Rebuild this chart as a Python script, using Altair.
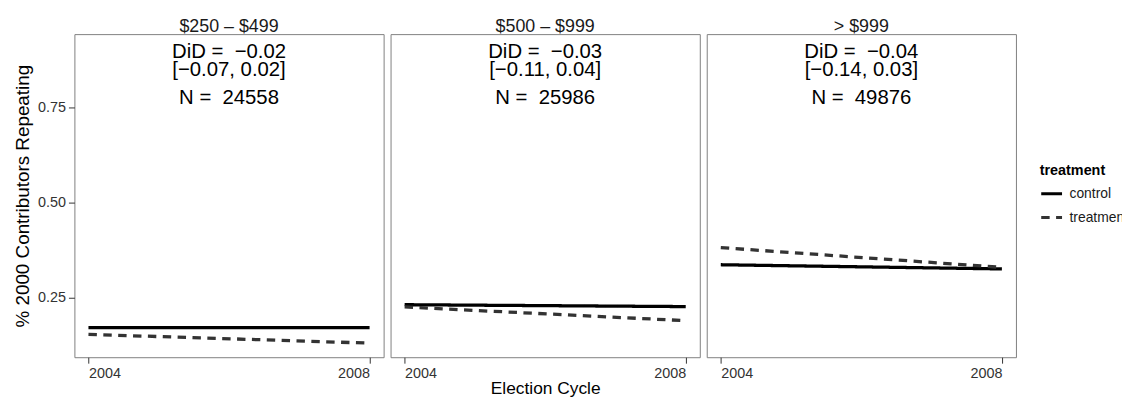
import altair as alt
import pandas as pd

brackets = ["$250 – $499", "$500 – $999", "> $999"]
years = [2004, 2008]
groups = ["control", "treatment"]
control_vals = [[0.172, 0.172], [0.232, 0.227], [0.337, 0.326]]
treatment_vals = [[0.154, 0.131], [0.226, 0.190], [0.382, 0.330]]
did_vals = ["−0.02", "−0.03", "−0.04"]
ci_vals = ["[−0.07, 0.02]", "[−0.11, 0.04]", "[−0.14, 0.03]"]
n_vals = [24558, 25986, 49876]
ann_y = [0.8964, 0.775]

FONT = "Liberation Sans"

rows = []
for i, b in enumerate(brackets):
    for j, yr in enumerate(years):
        rows.append({"bracket": b, "year": yr, "treatment": "control", "value": control_vals[i][j]})
        rows.append({"bracket": b, "year": yr, "treatment": "treatment", "value": treatment_vals[i][j]})
lines_df = pd.DataFrame(rows)

ann_rows = []
for i, b in enumerate(brackets):
    labels = [f"DiD = \u00a0{did_vals[i]}\n{ci_vals[i]}", f"N = \u00a0{n_vals[i]}"]
    for k, lab in enumerate(labels):
        ann_rows.append({"bracket": b, "label": lab, "year": 2006, "value": ann_y[k]})
ann_df = pd.DataFrame(ann_rows)

xscale = alt.Scale(domain=[2003.8, 2008.2], nice=False, zero=False)
yscale = alt.Scale(domain=[0.094, 0.943], nice=False, zero=False)


def panel(i):
    b = brackets[i]
    x_axis = alt.Axis(values=years, format="d",
                      labelAlign={"condition": {"test": "datum.value <= 2006", "value": "left"}, "value": "right"},
                      title="Election Cycle" if i == 1 else None)
    y_axis = alt.Axis(values=[0.25, 0.5, 0.75], format=".2f",
                      title="% 2000 Contributors Repeating") if i == 0 else None
    legend = alt.Legend(title="treatment", orient="none", legendX=336, legendY=131.5,
                        symbolType="stroke", symbolSize=441, symbolStrokeWidth=3,
                        rowPadding=5, titlePadding=3.1, labelOffset=6) if i == 2 else None
    lines = alt.Chart(lines_df[lines_df.bracket == b]).mark_line(strokeWidth=3.3).encode(
        x=alt.X("year:Q", scale=xscale, axis=x_axis),
        y=alt.Y("value:Q", scale=yscale, axis=y_axis),
        color=alt.Color("treatment:N", scale=alt.Scale(domain=groups, range=["#000000", "#333333"]), legend=legend),
        strokeDash=alt.StrokeDash("treatment:N", scale=alt.Scale(domain=groups, range=[[1, 0], [8.5, 6.5]]), legend=legend),
    )
    text = alt.Chart(ann_df[ann_df.bracket == b]).mark_text(
        font=FONT, fontSize=20.5, color="#000000", baseline="middle", align="center",
        lineBreak="\n", lineHeight=18.8,
    ).encode(
        x=alt.X("year:Q", scale=xscale),
        y=alt.Y("value:Q", scale=yscale),
        text="label:N",
    )
    return alt.layer(lines, text).properties(
        width=312, height=326,
        title=alt.TitleParams(b, fontSize=18, font=FONT, fontWeight="normal", color="#1a1a1a", offset=-1.7),
    )


chart = alt.hconcat(panel(0), panel(1), panel(2), spacing=5).resolve_scale(
    color="independent", strokeDash="independent"
).properties(
    padding={"left": 5, "top": 7.6, "right": -8, "bottom": -1}
).configure_view(
    stroke="#7f7f7f", strokeWidth=1
).configure_axis(
    domain=False, grid=False, tickColor="#333333", tickSize=6, tickWidth=1,
    labelFont=FONT, labelFontSize=14.5, labelColor="#333333", labelPadding=3,
    titleFont=FONT, titleFontSize=17.5, titleFontWeight="normal", titleColor="#000000",
).configure_axisY(titlePadding=5, titleFontSize=19, labelPadding=3).configure_axisX(titlePadding=0).configure_legend(
    titleFont=FONT, titleFontSize=14.5, titleFontWeight="bold", titleColor="#000000",
    labelFont=FONT, labelFontSize=14, labelColor="#1a1a1a",
)

chart.save("out.html", embed_options={"renderer": "svg", "actions": False})
